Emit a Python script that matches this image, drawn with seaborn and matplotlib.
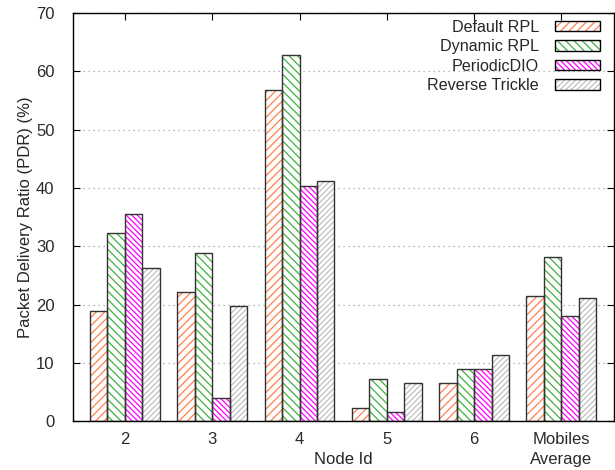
import pandas as pd
import seaborn as sns
import matplotlib.pyplot as plt
from matplotlib.patches import Patch, Rectangle
from matplotlib.legend_handler import HandlerTuple

nodes = ['2', '3', '4', '5', '6', 'Mobiles\nAverage']
default_rpl = [18.9, 22.2, 56.9, 2.2, 6.5, 21.4]
dynamic_rpl = [32.2, 28.9, 62.8, 7.2, 8.9, 28.1]
periodic_dio = [35.5, 3.9, 40.3, 1.5, 8.9, 18.1]
reverse_trickle = [26.2, 19.7, 41.2, 6.5, 11.3, 21.1]

series = ['Default RPL', 'Dynamic RPL', 'PeriodicDIO', 'Reverse Trickle']
colors = ['#ff7f50', '#3cb03c', '#ff00ff', '#c0c0c0']
hatches = ['////', '\\\\\\\\', '\\\\\\\\\\\\', '//////']

rows = []
for name, vals in zip(series, [default_rpl, dynamic_rpl, periodic_dio, reverse_trickle]):
    for n, v in zip(nodes, vals):
        rows.append({'node': n, 'series': name, 'pdr': v})
df = pd.DataFrame(rows)

sns.set_style('ticks')
plt.rcParams['font.family'] = ['Liberation Sans', 'DejaVu Sans']
plt.rcParams['hatch.linewidth'] = 0.9

fig, ax = plt.subplots(figsize=(6.15, 4.7), dpi=100)
sns.barplot(data=df, x='node', y='pdr', hue='series', hue_order=series,
            order=nodes, width=0.8, ax=ax, legend=False, saturation=1)

# hatch bars: white fill, coloured hatch (edgecolor), then a black outline on top
for cont, c, h in zip(ax.containers, colors, hatches):
    for p in cont:
        p.set_facecolor('white')
        p.set_hatch(h)
        p.set_edgecolor(c)
        p.set_linewidth(0)
        ax.add_patch(Rectangle(p.get_xy(), p.get_width(), p.get_height(),
                               fill=False, edgecolor='#333333', linewidth=1.0, zorder=p.get_zorder() + 0.1))

ax.set_xlim(-0.6, 5.6)
ax.set_ylim(0, 70)
ax.set_yticks(range(0, 71, 10))
ax.yaxis.grid(True, linestyle=(0, (1, 3)), color='#a0a0a0', linewidth=0.9)
ax.set_axisbelow(True)
ax.tick_params(direction='in', top=True, right=True, labelsize=12, colors='black', length=5)
ax.tick_params(axis='y', pad=13)
ax.tick_params(axis='x', pad=8)
for lbl in ax.get_xticklabels() + ax.get_yticklabels():
    lbl.set_color('#2a2a2a')
    lbl.set_linespacing(1.4)
for s in ax.spines.values():
    s.set_linewidth(1.0)
    s.set_color('black')
ax.set_xlabel('Node Id', fontsize=12)
ax.xaxis.set_label_coords(0.5, -0.075)
ax.set_ylabel('Packet Delivery Ratio (PDR) (%)', fontsize=12, labelpad=2)

handles = []
for c, h in zip(colors, hatches):
    fill = Patch(facecolor='white', edgecolor=c, hatch=h, linewidth=0)
    edge = Patch(fill=False, edgecolor='black', linewidth=1.0)
    handles.append((fill, edge))
ax.legend(handles, series, loc='upper right', frameon=False, markerfirst=False,
          fontsize=11.6, handlelength=2.8, handleheight=0.6, labelspacing=0.28,
          borderaxespad=0, handletextpad=1.0, bbox_to_anchor=(0.987, 1.0),
          handler_map={tuple: HandlerTuple(ndivide=1)})

plt.subplots_adjust(left=0.118, right=0.998, top=0.972, bottom=0.104)
plt.savefig('out.png', dpi=100)
